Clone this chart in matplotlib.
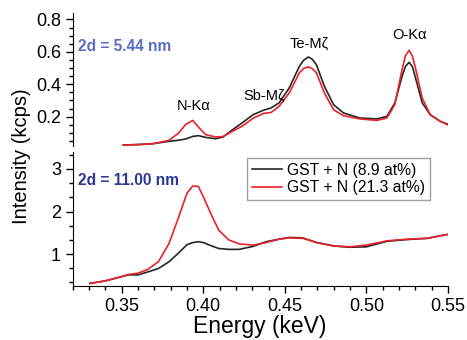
import matplotlib
matplotlib.use("Agg")
import matplotlib.pyplot as plt
from matplotlib.ticker import MultipleLocator, AutoMinorLocator

plt.rcParams['font.family'] = ['Liberation Sans', 'DejaVu Sans']

# top panel, 2d = 5.44 nm
x_top = [0.351, 0.360, 0.369, 0.379, 0.385, 0.389, 0.3935, 0.397, 0.4015, 0.4075,
         0.412, 0.418, 0.4243, 0.4305, 0.437, 0.4416, 0.4465, 0.4527, 0.4589, 0.4615,
         0.4644, 0.4668, 0.4694, 0.4743, 0.4799, 0.486, 0.496, 0.5064, 0.5126, 0.5175,
         0.5219, 0.5240, 0.5262, 0.5282, 0.5299, 0.5343, 0.5392, 0.5454, 0.5509]
top_low = [0.025, 0.028, 0.033, 0.048, 0.055, 0.062, 0.078, 0.083, 0.072, 0.064,
           0.074, 0.12, 0.165, 0.212, 0.240, 0.254, 0.285, 0.377, 0.51, 0.548,
           0.568, 0.555, 0.52, 0.387, 0.274, 0.223, 0.192, 0.186, 0.202, 0.285,
           0.449, 0.51, 0.535, 0.51, 0.449, 0.285, 0.212, 0.171, 0.15]
top_high = [0.025, 0.028, 0.033, 0.054, 0.10, 0.15, 0.177, 0.136, 0.089, 0.075,
            0.077, 0.11, 0.144, 0.19, 0.220, 0.226, 0.264, 0.346, 0.47, 0.497,
            0.507, 0.497, 0.47, 0.346, 0.243, 0.206, 0.186, 0.177, 0.192, 0.275,
            0.49, 0.575, 0.61, 0.575, 0.51, 0.315, 0.212, 0.171, 0.145]

# bottom panel, 2d = 11.00 nm
x_bot = [0.3305, 0.340, 0.348, 0.354, 0.360, 0.366, 0.3725, 0.379, 0.385, 0.390,
         0.3935, 0.397, 0.400, 0.4045, 0.4095, 0.4157, 0.422, 0.4305, 0.4385, 0.4465,
         0.4527, 0.461, 0.4695, 0.480, 0.4898, 0.500, 0.5126, 0.525, 0.5373, 0.551]
bot_low = [0.31, 0.37, 0.45, 0.51, 0.51, 0.58, 0.66, 0.82, 1.03, 1.22,
           1.27, 1.29, 1.27, 1.20, 1.13, 1.11, 1.11, 1.18, 1.29, 1.35,
           1.39, 1.38, 1.27, 1.19, 1.16, 1.17, 1.30, 1.34, 1.37, 1.47]
bot_high = [0.31, 0.37, 0.45, 0.52, 0.55, 0.64, 0.82, 1.25, 1.88, 2.43,
            2.60, 2.59, 2.35, 1.96, 1.56, 1.33, 1.24, 1.21, 1.27, 1.35,
            1.38, 1.37, 1.27, 1.19, 1.17, 1.21, 1.31, 1.35, 1.37, 1.47]

labels = ['GST + N (8.9 at%)', 'GST + N (21.3 at%)']
peaks = ['N-K\u03b1', 'Sb-M\u03b6', 'Te-M\u03b6', 'O-K\u03b1']
peak_x = [0.394, 0.4375, 0.465, 0.5265]
peak_y = [0.268, 0.33, 0.65, 0.706]

black = '#262626'
red = '#e8222a'

fig = plt.figure(figsize=(4.67, 3.4), dpi=100)
ax1 = fig.add_axes([0.156, 0.571, 0.803, 0.391])
ax2 = fig.add_axes([0.156, 0.159, 0.803, 0.394])

ax1.plot(x_top, top_low, color=black, lw=1.2)
ax1.plot(x_top, top_high, color=red, lw=1.2)
ax2.plot(x_bot, bot_low, color=black, lw=1.2, label=labels[0])
ax2.plot(x_bot, bot_high, color=red, lw=1.2, label=labels[1])

for ax in (ax1, ax2):
    ax.set_xlim(0.32, 0.55)
    ax.spines['top'].set_visible(False)
    ax.spines['right'].set_visible(False)
    ax.tick_params(which='major', direction='out', length=5, width=1, labelsize=13)
    ax.tick_params(which='minor', direction='out', length=3, width=1)

ax1.spines['bottom'].set_visible(False)
ax1.set_xticks([])
ax1.set_ylim(0.02, 0.84)
ax1.set_yticks([0.2, 0.4, 0.6, 0.8])
ax1.yaxis.set_minor_locator(AutoMinorLocator(4))

ax2.set_ylim(0.25, 3.4)
ax2.set_yticks([1, 2, 3])
ax2.yaxis.set_minor_locator(AutoMinorLocator(3))
ax2.set_xticks([0.35, 0.40, 0.45, 0.50, 0.55])
ax2.set_xticklabels(['0.35', '0.40', '0.45', '0.50', '0.55'])
ax2.xaxis.set_minor_locator(MultipleLocator(0.01))

for name, px, py in zip(peaks, peak_x, peak_y):
    ax1.text(px, py, name, ha='center', va='center', fontsize=10.5)

ax1.text(0.014, 0.75, '2d = 5.44 nm', transform=ax1.transAxes, color='#5a6ec4',
         fontsize=11.2, fontweight='bold', va='center', ha='left')
ax2.text(0.014, 0.79, '2d = 11.00 nm', transform=ax2.transAxes, color='#2b3896',
         fontsize=11.2, fontweight='bold', va='center', ha='left')

leg = ax2.legend(loc='upper right', bbox_to_anchor=(0.952, 0.955), fontsize=11.3,
                 frameon=True, fancybox=False, handlelength=1.9, borderpad=0.3,
                 labelspacing=0.15, handletextpad=0.35, borderaxespad=0)
leg.get_frame().set_edgecolor('#888888')
leg.get_frame().set_linewidth(1)

fig.text(0.047, 0.54, 'Intensity (kcps)', rotation=90, ha='center', va='center', fontsize=14.5)
fig.text(0.557, 0.04, 'Energy (keV)', ha='center', va='center', fontsize=16.5)

fig.savefig('out.png', dpi=100)
